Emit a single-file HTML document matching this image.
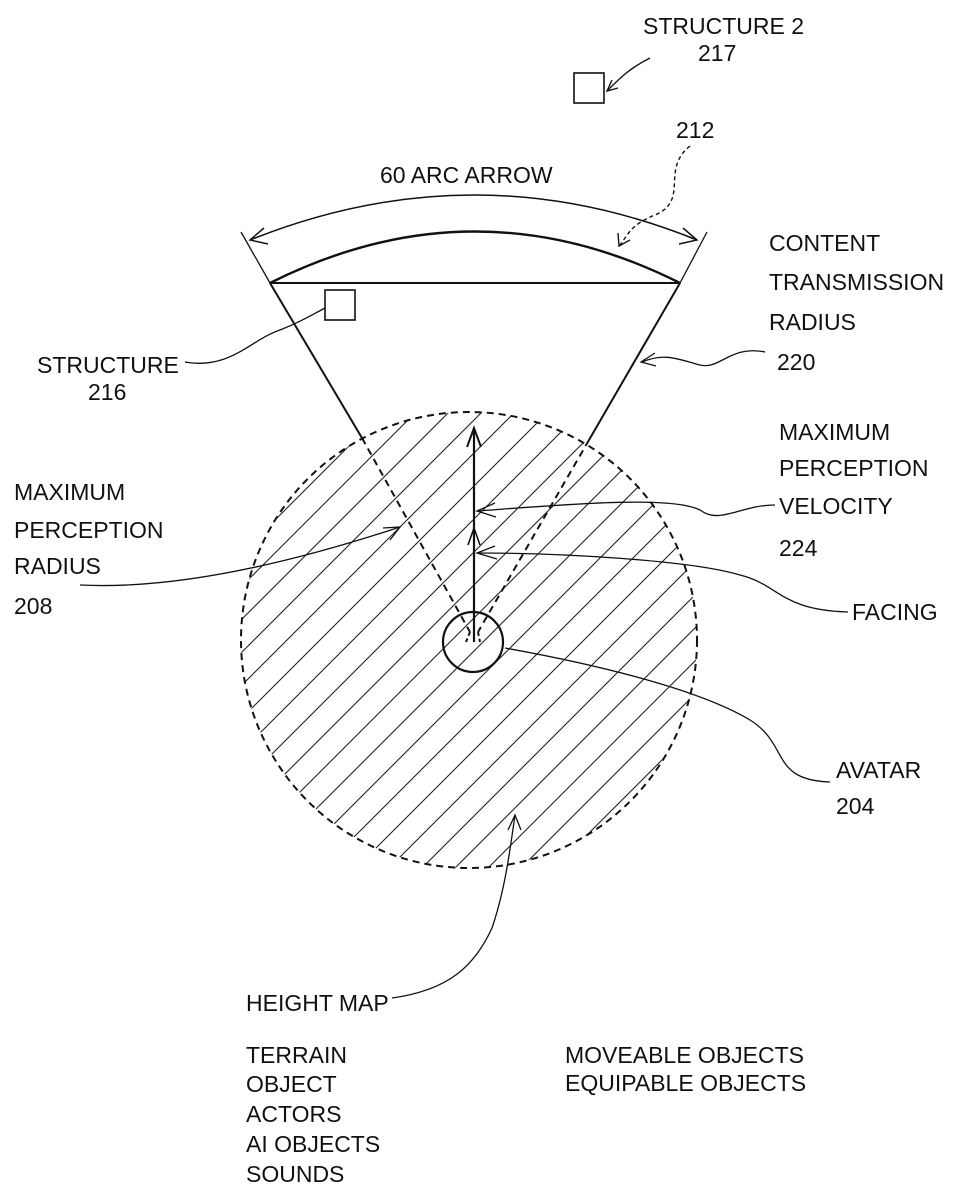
<!DOCTYPE html>
<html><head><meta charset="utf-8"><style>
html,body{margin:0;padding:0;background:#fff;}
svg{display:block;}
text{font-family:"Liberation Sans",sans-serif;font-size:23px;fill:#111;}
</style></head><body>
<svg width="964" height="1200" viewBox="0 0 964 1200" xmlns="http://www.w3.org/2000/svg">
<defs>
<clipPath id="cc"><circle cx="469" cy="640" r="228"/></clipPath>
<pattern id="hat" patternUnits="userSpaceOnUse" width="33" height="33" patternTransform="translate(3,0)">
<path d="M-5,38 L38,-5 M-38,38 L5,-5 M28,38 L71,-5" stroke="#222" stroke-width="1.1"/>
</pattern>
</defs>
<g fill="none" stroke="#111">
<rect x="230" y="400" width="480" height="480" fill="url(#hat)" stroke="none" clip-path="url(#cc)"/>
<circle cx="469" cy="640" r="228" stroke-width="2" stroke-dasharray="7,5"/>
<rect x="574" y="73" width="30" height="30" stroke-width="1.6" fill="#fff"/>
<rect x="325" y="290" width="30" height="30" stroke-width="1.6"/>
<path d="M270,283 L680,283" stroke-width="2"/>
<path d="M270,283 Q475,180 680,283" stroke-width="2.4"/>
<path d="M270,283 L362,438" stroke-width="2"/>
<path d="M680,283 L589,440" stroke-width="2"/>
<path d="M362,438 L470,632" stroke-width="2" stroke-dasharray="7,5"/>
<path d="M589,440 L478,632" stroke-width="2" stroke-dasharray="7,5"/>
<path d="M241,232 L270,283 M707,232 L680,283" stroke-width="1.3"/>
<path d="M250,240 Q474,150 697,240" stroke-width="1.5"/>
<path d="M264,228 L250,240 L268,244 M683,228 L697,240 L679,244" stroke-width="1.5"/>
<circle cx="473" cy="642" r="30" stroke-width="2.2"/>
<path d="M470,632 L466,642 M478,632 L480,642" stroke-width="2" stroke-dasharray="4,3"/>
<path d="M474,642 L474,428" stroke-width="2.2"/>
<path d="M467,447 L474,428 L481,447" stroke-width="2"/>
<path d="M468,545 L474,528 L480,545" stroke-width="1.6"/>
<path d="M650,58 C630,68 620,78 608,90" stroke-width="1.4"/>
<path d="M612,80 L607,91 L618,88" stroke-width="1.4"/>
<path d="M690,146 C660,170 690,200 655,215 C630,225 628,235 620,245" stroke-width="1.4" stroke-dasharray="4,3"/>
<path d="M618,233 L619,246 L630,240" stroke-width="1.4"/>
<path d="M185,362 C230,370 250,340 280,330 C300,322 310,316 325,308" stroke-width="1.3"/>
<path d="M765,352 C730,345 720,370 700,365 C680,360 665,352 642,362" stroke-width="1.3"/>
<path d="M655,353 L641,362 L656,366" stroke-width="1.3"/>
<path d="M775,505 C740,505 720,525 700,510 C670,495 560,505 477,511" stroke-width="1.3"/>
<path d="M495,503 L477,511 L496,517" stroke-width="1.3"/>
<path d="M848,612 C780,610 780,585 740,575 C690,560 560,553 477,553" stroke-width="1.3"/>
<path d="M495,546 L477,553 L497,559" stroke-width="1.3"/>
<path d="M80,585 C180,590 300,560 400,527" stroke-width="1.3"/>
<path d="M383,528 L400,527 L390,540" stroke-width="1.3"/>
<path d="M505,648 C600,665 700,690 750,720 C790,745 770,780 830,782" stroke-width="1.3"/>
<path d="M392,998 C450,990 475,965 492,928 C505,890 510,850 515,815" stroke-width="1.3"/>
<path d="M508,830 L515,815 L521,830" stroke-width="1.3"/>
</g>
<text x="643" y="34">STRUCTURE 2</text>
<text x="698" y="61">217</text>
<text x="676" y="138">212</text>
<text x="380" y="183">60  ARC ARROW</text>
<text x="769" y="251">CONTENT</text>
<text x="769" y="290">TRANSMISSION</text>
<text x="769" y="330">RADIUS</text>
<text x="777" y="370">220</text>
<text x="37" y="373">STRUCTURE</text>
<text x="88" y="400">216</text>
<text x="779" y="440">MAXIMUM</text>
<text x="779" y="476">PERCEPTION</text>
<text x="779" y="514">VELOCITY</text>
<text x="779" y="556">224</text>
<text x="14" y="500">MAXIMUM</text>
<text x="14" y="538">PERCEPTION</text>
<text x="14" y="574">RADIUS</text>
<text x="14" y="614">208</text>
<text x="852" y="620">FACING</text>
<text x="836" y="778">AVATAR</text>
<text x="836" y="814">204</text>
<text x="246" y="1011">HEIGHT MAP</text>
<text x="246" y="1063">TERRAIN</text>
<text x="246" y="1092">OBJECT</text>
<text x="246" y="1122">ACTORS</text>
<text x="246" y="1152">AI OBJECTS</text>
<text x="246" y="1182">SOUNDS</text>
<text x="565" y="1063">MOVEABLE OBJECTS</text>
<text x="565" y="1091">EQUIPABLE OBJECTS</text>
</svg>
</body></html>
